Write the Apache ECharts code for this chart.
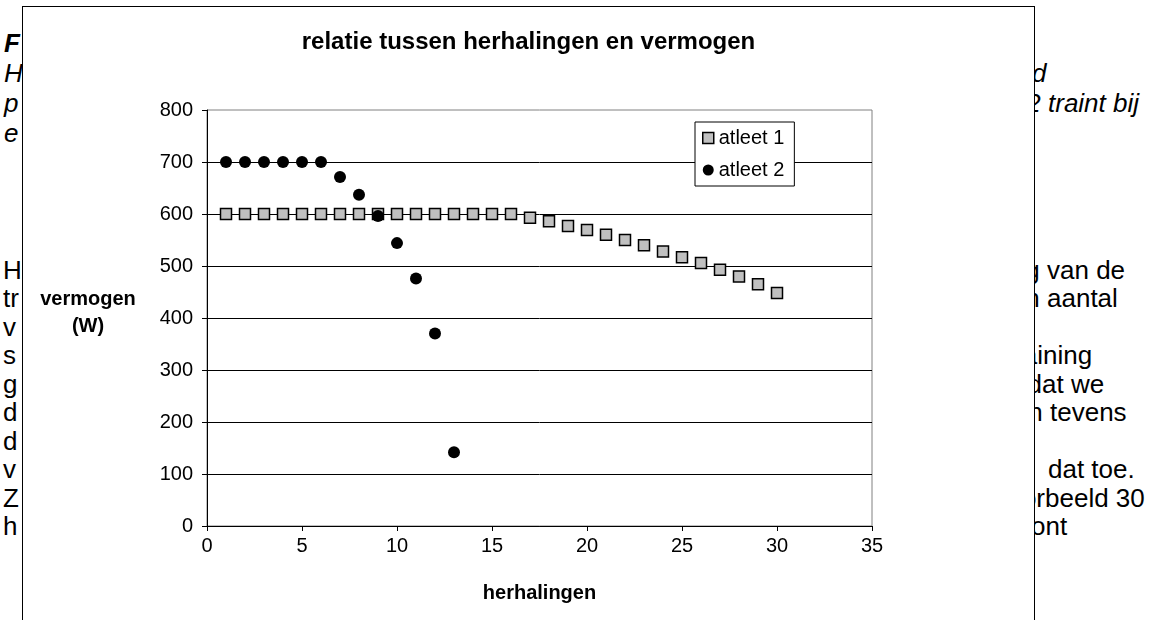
<!DOCTYPE html>
<html>
<head>
<meta charset="utf-8">
<script src="https://cdn.jsdelivr.net/npm/echarts@6/dist/echarts.min.js"></script>
<style>
  html, body { margin: 0; padding: 0; background: #fff; }
  body { width: 1155px; height: 620px; overflow: hidden; position: relative;
         font-family: 'Liberation Sans', Arial, sans-serif; color: #000; }
  .ln { position: absolute; font-size: 26px; line-height: 28px; white-space: pre; }
  .it { font-style: italic; }
  .bi { font-style: italic; font-weight: bold; }
  .pre { position: absolute; right: 100%; top: 0; white-space: pre; }
  #chart { position: absolute; left: 22px; top: 6px; width: 1013px; height: 640px;
           box-sizing: border-box; border: 1px solid #000; background: #fff; z-index: 1; }
</style>
</head>
<body>
<!-- document text around the embedded chart -->
<div class="ln bi" style="left:4px;top:29px">F</div>
<div class="ln it" style="left:4px;top:59px">H</div>
<div class="ln it" style="left:4px;top:89px">p</div>
<div class="ln it" style="left:4px;top:119px">e</div>
<div class="ln it" style="left:1032px;top:59px">d</div>
<div class="ln it" style="left:1048px;top:89px"><span class="pre">2 </span>traint bij</div>

<div class="ln" style="left:3px;top:256px">H</div>
<div class="ln" style="left:3px;top:284px">tr</div>
<div class="ln" style="left:3px;top:313px">v</div>
<div class="ln" style="left:3px;top:341px">s</div>
<div class="ln" style="left:3px;top:370px">g</div>
<div class="ln" style="left:3px;top:398px">d</div>
<div class="ln" style="left:3px;top:427px">d</div>
<div class="ln" style="left:3px;top:455px">v</div>
<div class="ln" style="left:3px;top:484px">Z</div>
<div class="ln" style="left:3px;top:512px">h</div>

<div class="ln" style="left:1047px;top:256px"><span class="pre">ing </span>van de</div>
<div class="ln" style="left:1047px;top:284px"><span class="pre">en </span>aantal</div>
<div class="ln" style="left:1043px;top:341px"><span class="pre">ai</span>ning</div>
<div class="ln" style="left:1042px;top:370px"><span class="pre">d</span>at we</div>
<div class="ln" style="left:1050px;top:398px"><span class="pre">en </span>tevens</div>
<div class="ln" style="left:1048px;top:455px"><span class="pre">  </span>dat toe.</div>
<div class="ln" style="left:1045px;top:484px"><span class="pre">oor</span>beeld 30</div>
<div class="ln" style="left:1031px;top:512px">ont</div>

<div id="chart"></div>

<script>
// herhalingen (x) en vermogen in W (y)
const herhalingen1 = [1, 2, 3, 4, 5, 6, 7, 8, 9, 10, 11, 12, 13, 14, 15,
  16, 17, 18, 19, 20, 21, 22, 23, 24, 25, 26, 27, 28, 29, 30]
const atleet1 = [600, 600, 600, 600, 600, 600, 600, 600, 600, 600, 600, 600, 600, 600, 600,
  600, 593, 586, 577, 569, 560, 550, 540, 528, 517, 506, 493, 480, 465, 448]
const herhalingen2 = [1, 2, 3, 4, 5, 6, 7, 8, 9, 10, 11, 12, 13]
const atleet2 = [700, 700, 700, 700, 700, 700, 671, 637, 596, 544, 476, 370, 142]
const seriesNames = ['atleet 1', 'atleet 2']

const font = "'Liberation Sans', Arial, sans-serif"
const chart = echarts.init(document.getElementById('chart'))

chart.setOption({
  animation: false,
  title: {
    text: 'relatie tussen herhalingen en vermogen',
    left: 'center',
    top: 23,
    padding: 0,
    textStyle: { fontFamily: font, fontSize: 24, fontWeight: 'bold', color: '#000' }
  },
  legend: {
    orient: 'vertical',
    left: 672,
    top: 115,
    padding: [6, 10, 6, 7],
    itemWidth: 11,
    itemHeight: 11,
    itemGap: 12,
    borderColor: '#000',
    borderWidth: 1,
    backgroundColor: '#fff',
    textStyle: { fontFamily: font, fontSize: 20, color: '#000' },
    data: [
      { name: seriesNames[0], icon: 'rect', itemStyle: { color: '#c0c0c0', borderColor: '#000', borderWidth: 1.5 } },
      { name: seriesNames[1], icon: 'circle', itemStyle: { color: '#000' } }
    ]
  },
  grid: {
    left: 184,
    top: 103,
    width: 665,
    height: 416,
    show: true,
    borderColor: '#808080',
    borderWidth: 1
  },
  graphic: [
    {
      type: 'text',
      x: 65,
      y: 306,
      style: {
        text: 'vermogen\n(W)',
        fontFamily: font,
        fontSize: 20,
        fontWeight: 'bold',
        lineHeight: 27,
        fill: '#000',
        align: 'center',
        verticalAlign: 'middle'
      }
    }
  ],
  xAxis: {
    type: 'value',
    min: 0,
    max: 35,
    interval: 5,
    name: 'herhalingen',
    nameLocation: 'middle',
    nameGap: 57,
    nameTextStyle: { fontFamily: font, fontSize: 20, fontWeight: 'bold', color: '#000' },
    axisLine: { show: true, onZero: false, lineStyle: { color: '#000', width: 1 } },
    axisTick: { show: true, inside: false, length: 5, lineStyle: { color: '#000' } },
    axisLabel: { fontFamily: font, fontSize: 20, color: '#000', margin: 10 },
    splitLine: { show: false }
  },
  yAxis: {
    type: 'value',
    min: 0,
    max: 800,
    interval: 100,
    axisLine: { show: true, lineStyle: { color: '#000', width: 1 } },
    axisTick: { show: true, inside: false, length: 5, lineStyle: { color: '#000' } },
    axisLabel: { fontFamily: font, fontSize: 20, color: '#000', margin: 14 },
    splitLine: { show: true, showMaxLine: false, lineStyle: { color: '#000', width: 1 } }
  },
  series: [
    {
      name: seriesNames[0],
      type: 'scatter',
      symbol: 'rect',
      symbolSize: 11,
      itemStyle: { color: '#c0c0c0', borderColor: '#000', borderWidth: 1.5, opacity: 1 },
      data: herhalingen1.map((x, i) => [x, atleet1[i]])
    },
    {
      name: seriesNames[1],
      type: 'scatter',
      symbol: 'circle',
      symbolSize: 12,
      itemStyle: { color: '#000', opacity: 1 },
      data: herhalingen2.map((x, i) => [x, atleet2[i]])
    }
  ]
})
</script>
</body>
</html>
